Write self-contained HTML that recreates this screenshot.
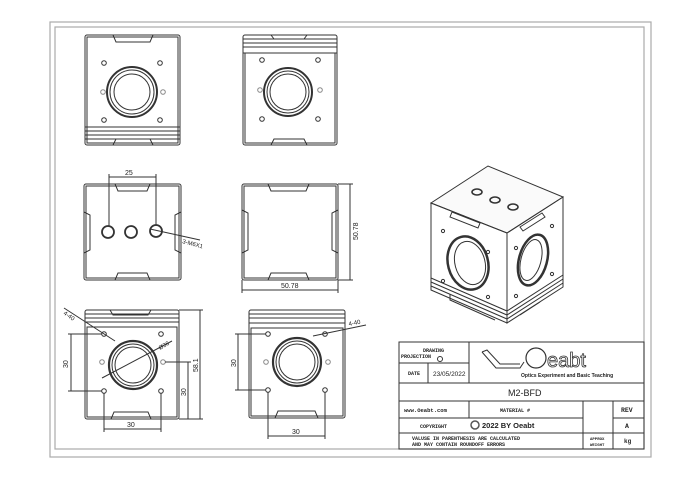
<!DOCTYPE html>
<html><head><meta charset="utf-8"><style>
html,body{margin:0;padding:0;background:#fff;}
svg{display:block;}
text{font-family:"Liberation Sans",sans-serif;fill:#222;}
.m{font-family:"Liberation Mono",monospace;}
</style></head><body>
<svg width="700" height="478" viewBox="0 0 700 478" xmlns="http://www.w3.org/2000/svg">
<g fill="none" stroke="#aaa" stroke-width="1.2">
<rect x="50" y="22" width="601" height="435"/>
<rect x="55" y="27" width="589" height="422"/>
</g>

<g fill="none" stroke="#333" stroke-width="1">
<!-- View 1 -->
<rect x="85" y="35" width="95" height="110" rx="2"/>
<rect x="87" y="37" width="91" height="106"/>
<path d="M113 35 L116 42 L150 42 L153 35"/>
<path d="M113 145 L116 139 L150 139 L153 145"/>
<line x1="85" y1="127" x2="180" y2="127"/><line x1="85" y1="131" x2="180" y2="131"/>
<line x1="85" y1="135" x2="180" y2="135"/><line x1="85" y1="139" x2="180" y2="139"/>
<circle cx="132" cy="92" r="25" stroke-width="2"/><circle cx="132" cy="92" r="22"/><circle cx="132" cy="92" r="18"/>
<circle cx="104" cy="63" r="2.3"/><circle cx="160" cy="63" r="2.3"/><circle cx="104" cy="120" r="2.3"/><circle cx="160" cy="120" r="2.3"/>
<circle cx="103" cy="92" r="2.3" stroke="#888"/><circle cx="163" cy="92" r="2.3" stroke="#888"/>

<!-- View 2 -->
<rect x="243" y="35" width="94" height="110" rx="2"/>
<rect x="245" y="53" width="90" height="90"/>
<line x1="243" y1="39" x2="337" y2="39"/><line x1="243" y1="43" x2="337" y2="43"/>
<line x1="243" y1="47" x2="337" y2="47"/><line x1="243" y1="53" x2="337" y2="53"/>
<path d="M271 35 L274 39 L304 39 L307 35"/>
<path d="M271 145 L274 139 L304 139 L307 145"/>
<circle cx="288" cy="92" r="24" stroke-width="2"/><circle cx="288" cy="92" r="21"/><circle cx="288" cy="92" r="18"/>
<circle cx="262" cy="60" r="2.3"/><circle cx="318" cy="60" r="2.3"/><circle cx="262" cy="119" r="2.3"/><circle cx="318" cy="119" r="2.3"/>
<circle cx="260" cy="90" r="2.3" stroke="#888"/><circle cx="320" cy="90" r="2.3" stroke="#888"/>

<!-- View 3 -->
<rect x="84" y="184" width="97" height="96" rx="2"/>
<rect x="86" y="186" width="93" height="92"/>
<path d="M115 184 L118 191 L147 191 L150 184"/><path d="M115 280 L118 273 L147 273 L150 280"/>
<path d="M84 212 L90 215 L90 250 L84 253"/><path d="M181 212 L175 215 L175 250 L181 253"/>
<circle cx="108" cy="232" r="6" stroke-width="1.8"/><circle cx="131" cy="232" r="6" stroke-width="1.8"/><circle cx="156" cy="231" r="6" stroke-width="1.8"/>
<line x1="109" y1="174" x2="109" y2="226"/><line x1="156" y1="174" x2="156" y2="225"/>
<line x1="109" y1="177" x2="156" y2="177"/>
<line x1="150" y1="229" x2="200" y2="240"/>
<!-- View 4 -->
<rect x="242" y="184" width="96" height="96" rx="2"/>
<rect x="244" y="186" width="92" height="92"/>
<path d="M268 184 L271 191 L306 191 L309 184"/><path d="M268 280 L271 273 L306 273 L309 280"/>
<path d="M242 210 L248 213 L248 250 L242 253"/><path d="M338 210 L332 213 L332 250 L338 253"/>
<line x1="338" y1="184" x2="353" y2="184"/><line x1="338" y1="280" x2="353" y2="280"/>
<line x1="350" y1="184" x2="350" y2="280"/>
<line x1="242" y1="280" x2="242" y2="293"/><line x1="338" y1="280" x2="338" y2="293"/>
<line x1="242" y1="290" x2="338" y2="290"/>

<!-- View 5 -->
<rect x="85" y="310" width="94" height="109" rx="2"/>
<rect x="87" y="327" width="90" height="90"/>
<line x1="85" y1="314" x2="179" y2="314"/><line x1="85" y1="318" x2="179" y2="318"/><line x1="85" y1="322" x2="179" y2="322"/>
<path d="M110 310 L113 315 L148 315 L151 310"/>
<path d="M111 419 L114 412 L148 412 L151 419"/>
<circle cx="133" cy="365" r="24" stroke-width="2.2"/><circle cx="133" cy="365" r="21"/><circle cx="133" cy="365" r="18"/>
<circle cx="104" cy="334" r="2.3"/><circle cx="161" cy="334" r="2.3"/><circle cx="104" cy="391" r="2.3"/><circle cx="161" cy="391" r="2.3"/>
<circle cx="102" cy="362" r="2.3" stroke="#888"/><circle cx="163" cy="362" r="2.3" stroke="#888"/>
<line x1="64" y1="308" x2="115" y2="341"/>
<line x1="102" y1="378" x2="172" y2="341"/>
<line x1="68" y1="334" x2="102" y2="334"/><line x1="68" y1="391" x2="102" y2="391"/><line x1="71" y1="334" x2="71" y2="391"/>
<line x1="165" y1="362" x2="191" y2="362"/><line x1="179" y1="419" x2="203" y2="419"/><line x1="179" y1="310" x2="203" y2="310"/>
<line x1="188" y1="362" x2="188" y2="419"/><line x1="200" y1="310" x2="200" y2="419"/>
<line x1="104" y1="393" x2="104" y2="432"/><line x1="161" y1="393" x2="161" y2="432"/><line x1="104" y1="429" x2="161" y2="429"/>

<!-- View 6 -->
<rect x="249" y="310" width="96" height="108" rx="2"/>
<rect x="251" y="328" width="92" height="88"/>
<line x1="249" y1="314" x2="345" y2="314"/><line x1="249" y1="318" x2="345" y2="318"/><line x1="249" y1="323" x2="345" y2="323"/>
<path d="M275 418 L278 411 L315 411 L318 418"/>
<circle cx="297" cy="362" r="24" stroke-width="2.2"/><circle cx="297" cy="362" r="21"/><circle cx="297" cy="362" r="18"/>
<circle cx="268" cy="334" r="2.3"/><circle cx="325" cy="334" r="2.3"/><circle cx="268" cy="390" r="2.3"/><circle cx="325" cy="390" r="2.3"/>
<circle cx="266" cy="362" r="2.3" stroke="#888"/><circle cx="328" cy="362" r="2.3" stroke="#888"/>
<line x1="313" y1="336" x2="366" y2="325"/>
<line x1="235" y1="334" x2="266" y2="334"/><line x1="235" y1="390" x2="266" y2="390"/><line x1="238" y1="334" x2="238" y2="390"/>
<line x1="268" y1="392" x2="268" y2="439"/><line x1="325" y1="392" x2="325" y2="439"/><line x1="268" y1="436" x2="325" y2="436"/>

<!-- Isometric -->
<path d="M488 166 L431 203 L507 233 L563 197 Z" fill="#fafafa"/>
<path d="M431 203 L431 290 L507 323 L507 233 Z"/>
<path d="M507 233 L507 323 L563 287 L563 197 Z"/>
<path d="M431 278 L507 311 L563 275"/><path d="M431 282 L507 315 L563 279"/><path d="M431 286 L507 319 L563 283"/>
<path d="M450 294 L450 300 L495 320"/><path d="M520 315 L540 302"/>
<ellipse cx="468" cy="263" rx="20" ry="27" transform="rotate(-15 468 263)" stroke-width="2.5"/>
<ellipse cx="470" cy="263" rx="15" ry="22" transform="rotate(-15 470 263)"/>
<ellipse cx="533" cy="260" rx="14" ry="26" transform="rotate(15 533 260)" stroke-width="2.5"/>
<ellipse cx="531" cy="260" rx="10" ry="21" transform="rotate(15 531 260)"/>
<ellipse cx="477" cy="192" rx="5" ry="3" stroke-width="1.6"/><ellipse cx="495" cy="200" rx="5" ry="3" stroke-width="1.6"/><ellipse cx="513" cy="207" rx="5" ry="3" stroke-width="1.6"/>
<path d="M452 212 L480 223 L478 228 L450 217 Z"/><path d="M520 227 L542 213 L545 217 L523 231 Z"/>
<circle cx="443" cy="231" r="1.6"/><circle cx="488" cy="252" r="1.6"/><circle cx="443" cy="281" r="1.6"/><circle cx="488" cy="297" r="1.6"/>
<circle cx="516" cy="248" r="1.6"/><circle cx="552" cy="226" r="1.6"/><circle cx="516" cy="296" r="1.6"/><circle cx="552" cy="274" r="1.6"/>

<!-- Title block -->
<rect x="399" y="342" width="245" height="107"/>
<line x1="469" y1="342" x2="469" y2="383"/>
<line x1="399" y1="363" x2="469" y2="363"/><line x1="428" y1="363" x2="428" y2="383"/>
<line x1="399" y1="383" x2="644" y2="383"/><line x1="399" y1="401" x2="644" y2="401"/>
<line x1="399" y1="418" x2="583" y2="418"/><line x1="613" y1="418" x2="644" y2="418"/>
<line x1="399" y1="433" x2="644" y2="433"/>
<line x1="469" y1="401" x2="469" y2="418"/>
<line x1="583" y1="401" x2="583" y2="449"/><line x1="613" y1="401" x2="613" y2="449"/>
<path d="M482 352 L496 368 L520 368 L524 362 M482 352 L487 350 L500 364 L520 364" />
<circle cx="536" cy="358" r="10" stroke-width="1.2"/>
<circle cx="440" cy="359" r="2.5"/>
</g>

<g font-size="7" fill="#222">
<text x="125" y="175" font-size="7">25</text>
<text x="182" y="243" font-size="6" transform="rotate(15 182 243)">3-M6X1</text>
<text x="358" y="240" font-size="7" transform="rotate(-90 358 240)">50.78</text>
<text x="281" y="288" font-size="7">50.78</text>
<text x="63" y="314" font-size="6" transform="rotate(35 63 314)">4-40</text>
<text x="160" y="350" font-size="6" transform="rotate(-30 160 350)">Ø36</text>
<text x="68" y="368" font-size="7" transform="rotate(-90 68 368)">30</text>
<text x="186" y="396" font-size="7" transform="rotate(-90 186 396)">30</text>
<text x="198" y="372" font-size="7" transform="rotate(-90 198 372)">58.1</text>
<text x="127" y="427" font-size="7">30</text>
<text x="349" y="326" font-size="6" transform="rotate(-12 349 326)">4-40</text>
<text x="236" y="367" font-size="7" transform="rotate(-90 236 367)">30</text>
<text x="292" y="434" font-size="7">30</text>
</g>
<g class="m" font-size="5" font-weight="bold">
<text x="423" y="352" class="m">DRAWING</text>
<text x="401" y="358" class="m">PROJECTION</text>
<text x="408" y="375" class="m">DATE</text>
<text x="404" y="412" class="m" font-size="5.5">www.Oeabt.com</text>
<text x="500" y="412" class="m">MATERIAL #</text>
<text x="420" y="428" class="m">COPYRIGHT</text>
<text x="412" y="440" class="m">VALUSE IN PARENTHESIS ARE CALCULATED</text>
<text x="412" y="446" class="m">AND MAY CONTAIN ROUNDOFF ERRORS</text>
<text x="590" y="440" class="m" font-size="4">APPROX</text>
<text x="590" y="446" class="m" font-size="4">WEIGHT</text>
<text x="621" y="412" class="m" font-size="6.5">REV</text>
<text x="625" y="428" class="m" font-size="6.5">A</text>
<text x="624" y="443" class="m" font-size="6">kg</text>
</g>
<text x="433" y="376" font-size="6.5" font-family="Liberation Serif">23/05/2022</text>
<text x="508" y="396" font-size="9" font-family="Liberation Serif">M2-BFD</text>
<circle cx="475" cy="425" r="4" fill="none" stroke="#555" stroke-width="1.5"/>
<text x="482" y="428" font-size="7.5" font-weight="bold">2022 BY Oeabt</text>
<text x="547" y="367" font-size="20" style="fill:none;stroke:#333;stroke-width:0.8">eabt</text>
<text x="521" y="377" font-size="5" font-weight="bold">Optics Experiment and Basic Teaching</text>
</svg>
</body></html>
